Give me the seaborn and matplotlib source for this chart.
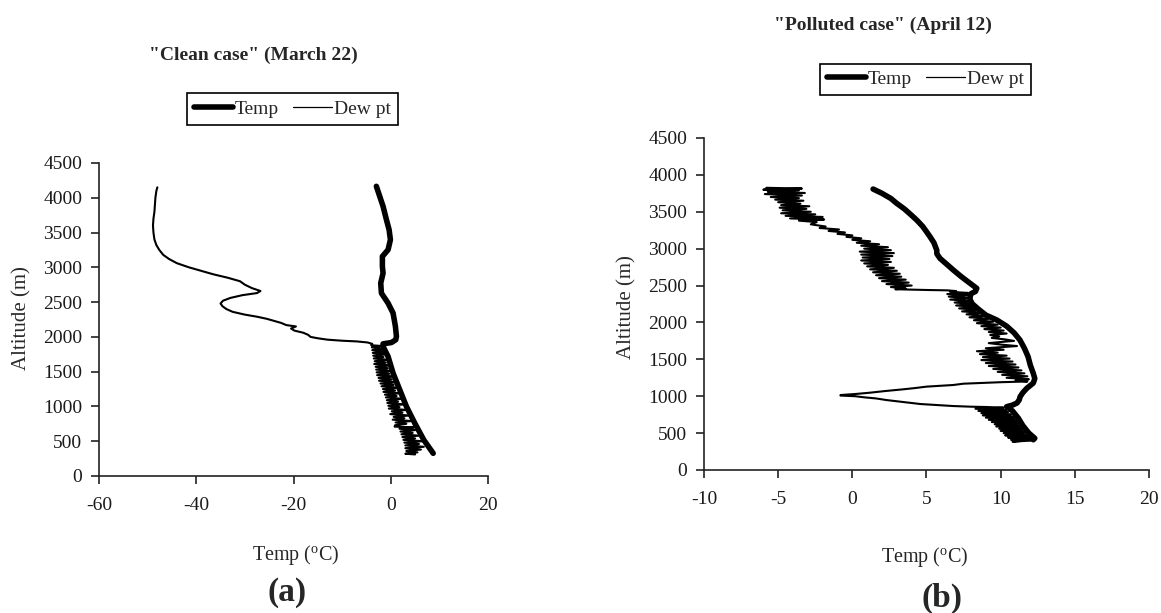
import matplotlib
matplotlib.use("Agg")
import matplotlib.pyplot as plt
import seaborn as sns
import pandas as pd
from matplotlib.lines import Line2D

# ---------------- data ----------------
# Panel (a) "Clean case" (March 22)
a_temp_alt = [4165, 4021, 3877, 3685, 3541, 3397, 3253, 3157, 3013, 2917, 2773, 2629, 2485,
              2342, 2150, 2006, 1958, 1919, 1900, 1862, 1718, 1478, 1238, 998, 758, 518, 326]
a_temp_val = [-2.96, -2.27, -1.58, -0.89, -0.34, -0.07, -0.55, -1.72, -1.72, -1.58, -2.06, -1.92, -0.55,
              0.48, 0.96, 1.17, 1.03, 0.14, -1.58, -1.58, -0.55, 0.48, 1.86, 3.23, 4.95, 6.8, 8.73]

a_dew_alt = [4150, 4100, 4000, 3900, 3800, 3700, 3600, 3500, 3400, 3320, 3250, 3180, 3120, 3060,
             3000, 2950, 2900, 2850, 2800, 2750, 2700, 2660, 2630, 2600, 2560, 2520, 2480, 2440,
             2400, 2360, 2320, 2290, 2260, 2230, 2200, 2170, 2150, 2120, 2090, 2060, 2030, 2000,
             1980, 1960, 1945, 1935, 1920, 1900, 1880,
             1870, 1850, 1830, 1810, 1790, 1770, 1750, 1730, 1710, 1690, 1670, 1650, 1630, 1610,
             1590, 1570, 1550, 1530, 1510, 1490, 1470, 1450, 1430, 1410, 1390, 1370, 1350, 1330,
             1310, 1290, 1270, 1250, 1230, 1210, 1190, 1170, 1150, 1130, 1110, 1090, 1070, 1050,
             1030, 1010, 990, 970, 950, 930, 910, 890, 870, 850, 830, 810, 790, 770, 750, 730,
             710, 700, 680, 660, 640, 620, 600, 580, 560, 540, 520, 500, 480, 460, 440, 420,
             400, 380, 360, 340, 320, 310]
a_dew_val = [-48.0, -48.2, -48.4, -48.5, -48.6, -48.8, -48.9, -48.8, -48.6, -48.2, -47.6, -46.8, -45.6, -44.0,
             -41.5, -39.0, -36.5, -33.5, -31.0, -30.0, -28.5, -26.8, -27.5, -30.5, -33.0, -34.5, -35.0, -34.6,
             -33.8, -32.5, -30.0, -27.5, -25.5, -24.0, -22.5, -21.5, -19.5, -20.5, -19.8, -18.0, -17.0, -16.5,
             -15.0, -13.0, -10.0, -7.0, -4.8, -3.8, -4.0,
             -2.0, -3.9, -1.6, -3.8, -1.2, -3.7, -0.9, -3.6, -1.5, -3.5, -0.5, -3.3, -1.0, -3.4,
             0.0, -3.1, -0.6, -3.0, 0.3, -2.9, -0.3, -2.8, 0.8, -2.5, 0.2, -2.4, 1.2, -2.1,
             0.6, -1.9, 1.6, -1.6, 0.9, -1.5, 2.0, -1.2, 1.2, -1.0, 2.4, -0.8, 1.5, -0.7,
             2.8, -0.5, 1.8, -0.4, 3.2, 0.2, 2.4, -0.1, 3.8, 0.6, 2.8, 0.4, 4.3, 1.0, 3.2, 0.9,
             0.8, 4.8, 1.8, 5.0, 2.0, 4.5, 2.2, 5.8, 2.4, 5.0, 2.6, 6.5, 2.8, 5.8, 3.0, 6.8,
             3.0, 6.2, 3.2, 5.5, 3.0, 5.0]

# Panel (b) "Polluted case" (April 12)
b_temp_alt = [3808, 3750, 3680, 3613, 3540, 3460, 3388, 3300, 3230, 3161, 3080, 2981, 2930, 2868,
              2800, 2710, 2620, 2530, 2462, 2420, 2390, 2348, 2304, 2250, 2180, 2100, 2033, 1950,
              1860, 1762, 1650, 1535, 1420, 1310, 1240, 1179, 1107, 1050, 993, 950, 908, 880,
              858, 800, 700, 600, 500, 430, 410]
b_temp_val = [1.4, 2.0, 2.6, 3.0, 3.5, 3.95, 4.34, 4.75, 5.0, 5.24, 5.5, 5.69, 5.7, 5.91,
              6.3, 6.81, 7.35, 7.94, 8.39, 8.3, 8.0, 7.94, 7.94, 8.1, 8.5, 9.0, 9.74, 10.4,
              10.9, 11.3, 11.6, 11.85, 12.0, 12.2, 12.3, 12.2, 11.76, 11.5, 11.31, 11.25, 11.1, 10.8,
              10.4, 10.8, 11.2, 11.5, 11.9, 12.3, 12.2]

b_dew_alt = [3825, 3815, 3800, 3790, 3770, 3755, 3740, 3720, 3700, 3685, 3665, 3650, 3630, 3610,
             3590, 3575, 3555, 3540, 3520, 3500, 3480, 3465, 3445, 3430, 3410, 3395, 3380, 3360,
             3330, 3300, 3280, 3260, 3240, 3220, 3200, 3180, 3160, 3140, 3120, 3100, 3080, 3060,
             3040, 3020, 3000, 2980, 2960, 2940, 2920, 2900, 2880, 2860, 2840, 2820, 2800, 2780,
             2760, 2740, 2720, 2700, 2680, 2660, 2640, 2620, 2600, 2580, 2560, 2540, 2520, 2500,
             2480, 2460, 2450, 2445, 2440, 2435, 2425, 2415,
             2400, 2385, 2370, 2350, 2330, 2310, 2290, 2270, 2250, 2230, 2210, 2190, 2170, 2150,
             2130, 2110, 2090, 2070, 2050, 2030, 2010, 1990, 1970, 1950, 1930, 1910, 1890, 1870,
             1850, 1830, 1810, 1790, 1770, 1750, 1740, 1720, 1700, 1680, 1670, 1650, 1630, 1610,
             1590, 1570, 1550, 1530, 1510, 1490, 1470, 1450, 1430, 1410, 1390, 1370, 1350, 1330,
             1310, 1290, 1270, 1250, 1230, 1215, 1200,
             1190, 1170, 1152, 1130, 1110, 1093, 1070, 1048, 1030, 1016, 1009, 1000, 985, 970,
             948, 920, 894, 880, 867, 858, 854,
             845, 830, 815, 800, 785, 770, 755, 740, 725, 710, 695, 680, 665, 650, 635, 620,
             605, 590, 575, 560, 545, 530, 515, 500, 485, 470, 455, 440, 425, 410, 395, 385, 400]
b_dew_val = [-5.8, -3.4, -6.0, -3.6, -5.7, -3.2, -5.9, -3.4, -5.5, -3.6, -5.2, -3.3, -5.0, -3.5,
             -4.8, -2.9, -4.9, -3.1, -4.7, -2.8, -4.8, -2.5, -4.5, -2.0, -4.2, -1.9, -3.6, -2.4,
             -2.8, -1.8, -2.2, -0.9, -1.6, -0.5, -1.0, 0.0, -0.4, 0.6, 0.0, 1.2, 0.3, 1.8,
             0.6, 2.4, 0.8, 2.6, 0.5, 2.8, 0.6, 2.7, 0.7, 2.5, 0.6, 2.6, 0.8, 2.4,
             1.0, 2.8, 1.2, 3.0, 1.4, 3.2, 1.6, 3.3, 1.8, 3.6, 2.0, 3.8, 2.3, 4.0,
             2.6, 3.6, 2.9, 3.9, 5.0, 6.4, 7.0, 6.6,
             7.8, 6.4, 8.0, 6.5, 7.9, 6.6, 8.1, 6.9, 8.2, 7.0, 8.4, 7.2, 8.6, 7.4,
             8.7, 7.7, 8.9, 7.9, 9.2, 8.2, 9.5, 8.4, 9.8, 8.7, 10.0, 8.9, 10.2, 9.2,
             10.4, 9.3, 9.9, 9.4, 10.3, 10.9, 10.3, 9.2, 10.0, 11.1, 10.4, 9.0, 10.2, 8.4,
             9.8, 8.6, 10.4, 8.8, 10.6, 8.7, 10.8, 9.0, 11.0, 9.2, 11.2, 9.5, 11.4, 9.8,
             11.6, 10.1, 11.8, 10.4, 11.9, 11.0, 11.8,
             10.0, 7.5, 6.8, 5.0, 4.2, 3.4, 2.2, 1.2, 0.2, -0.8, -0.8, 0.2, 0.8, 1.6,
             2.3, 3.5, 4.6, 5.8, 6.8, 8.0, 9.0,
             10.2, 8.3, 10.4, 8.5, 10.5, 8.7, 10.7, 8.8, 10.9, 9.0, 11.0, 9.2, 11.1, 9.4, 11.2, 9.6,
             11.3, 9.7, 11.4, 9.9, 11.5, 10.0, 11.6, 10.2, 11.7, 10.3, 11.9, 10.5, 12.1, 10.7, 11.5, 10.8, 12.2]

y_ticks = [0, 500, 1000, 1500, 2000, 2500, 3000, 3500, 4000, 4500]
a_x_ticks = [-60, -40, -20, 0, 20]
b_x_ticks = [-10, -5, 0, 5, 10, 15, 20]

titles = ['"Clean case" (March 22)', '"Polluted case" (April 12)']
legend_labels = ["Temp", "Dew pt"]
panel_tags = ["(a)", "(b)"]

# ---------------- style ----------------
sns.set_style("ticks")
plt.rcParams["font.family"] = ["Liberation Serif", "DejaVu Serif"]
plt.rcParams["mathtext.fontset"] = "custom"
plt.rcParams["mathtext.rm"] = "Liberation Serif"
plt.rcParams["mathtext.it"] = "Liberation Serif:italic"
plt.rcParams["mathtext.bf"] = "Liberation Serif:bold"

W, H = 1161, 613
fig = plt.figure(figsize=(W / 100, H / 100), dpi=100)
axA = fig.add_axes([99 / W, 1 - 476 / H, (488 - 99) / W, (476 - 163) / H])
axB = fig.add_axes([704 / W, 1 - 470 / H, (1149 - 704) / W, (470 - 138) / H])

DEW_LW = 1.5
TEMP_LW = 4.0

dfs = [
    (axA, pd.DataFrame({"alt": a_temp_alt, "t": a_temp_val}), pd.DataFrame({"alt": a_dew_alt, "t": a_dew_val}), (-60, 20), a_x_ticks),
    (axB, pd.DataFrame({"alt": b_temp_alt, "t": b_temp_val}), pd.DataFrame({"alt": b_dew_alt, "t": b_dew_val}), (-10, 20), b_x_ticks),
]

for ax, dft, dfd, xlim, xt in dfs:
    sns.lineplot(data=dfd, x="t", y="alt", sort=False, estimator=None, color="black",
                 linewidth=DEW_LW, ax=ax, solid_joinstyle="round")
    sns.lineplot(data=dft, x="t", y="alt", sort=False, estimator=None, color="black",
                 linewidth=TEMP_LW, ax=ax, solid_capstyle="round", solid_joinstyle="round")
    ax.set_xlim(*xlim)
    ax.set_ylim(0, 4500)
    ax.set_xticks(xt)
    ax.set_yticks(y_ticks)
    ax.set_xticklabels([str(v) for v in xt])
    ax.set_yticklabels([str(v) for v in y_ticks])
    ax.set_xlabel("")
    ax.set_ylabel("")
    sns.despine(ax=ax)
    for s in ("left", "bottom"):
        ax.spines[s].set_linewidth(1.2)
        ax.spines[s].set_color("#222222")
    ax.tick_params(axis="both", direction="out", length=6, width=1.2, color="#222222",
                   labelsize=14, labelcolor="#1a1a1a")
    ax.tick_params(axis="x", pad=9)
    ax.tick_params(axis="y", pad=6)
    ax.set_facecolor("white")
    ax.grid(False)

# titles
fig.text(253 / W, 1 - 55 / H, titles[0], ha="center", va="center", fontsize=14, fontweight="bold")
fig.text(883 / W, 1 - 25 / H, titles[1], ha="center", va="center", fontsize=14, fontweight="bold")

# y labels
fig.text(22 / W, 1 - 318 / H, "Altitude (m)", rotation=90, ha="center", va="center", fontsize=15, color="#2a2a2a")
fig.text(627 / W, 1 - 307 / H, "Altitude (m)", rotation=90, ha="center", va="center", fontsize=15, color="#2a2a2a")

# x labels
fig.text(296 / W, 1 - 555 / H, r"Temp ($^{\mathrm{o}}$C)", ha="center", va="center", fontsize=14.5)
fig.text(925 / W, 1 - 557 / H, r"Temp ($^{\mathrm{o}}$C)", ha="center", va="center", fontsize=14.5)

# panel tags
fig.text(287 / W, 1 - 593 / H, panel_tags[0], ha="center", va="center", fontsize=24, fontweight="bold")
fig.text(942 / W, 1 - 598 / H, panel_tags[1], ha="center", va="center", fontsize=24, fontweight="bold")

# legends
handles = [Line2D([], [], color="black", linewidth=TEMP_LW, solid_capstyle="round"),
           Line2D([], [], color="black", linewidth=0.9)]
for cx, cy in [(292.5, 109), (925.5, 79.5)]:
    leg = fig.legend(handles, legend_labels, loc="center", bbox_to_anchor=(cx / W, 1 - cy / H),
                     ncol=2, fontsize=14, frameon=True, fancybox=False, shadow=False,
                     handlelength=2.0, handletextpad=0.1, columnspacing=0.7,
                     borderpad=0.35, borderaxespad=0)
    fr = leg.get_frame()
    fr.set_edgecolor("black")
    fr.set_linewidth(1.2)
    fr.set_alpha(1)

fig.savefig("out.png", dpi=100, facecolor="white")
